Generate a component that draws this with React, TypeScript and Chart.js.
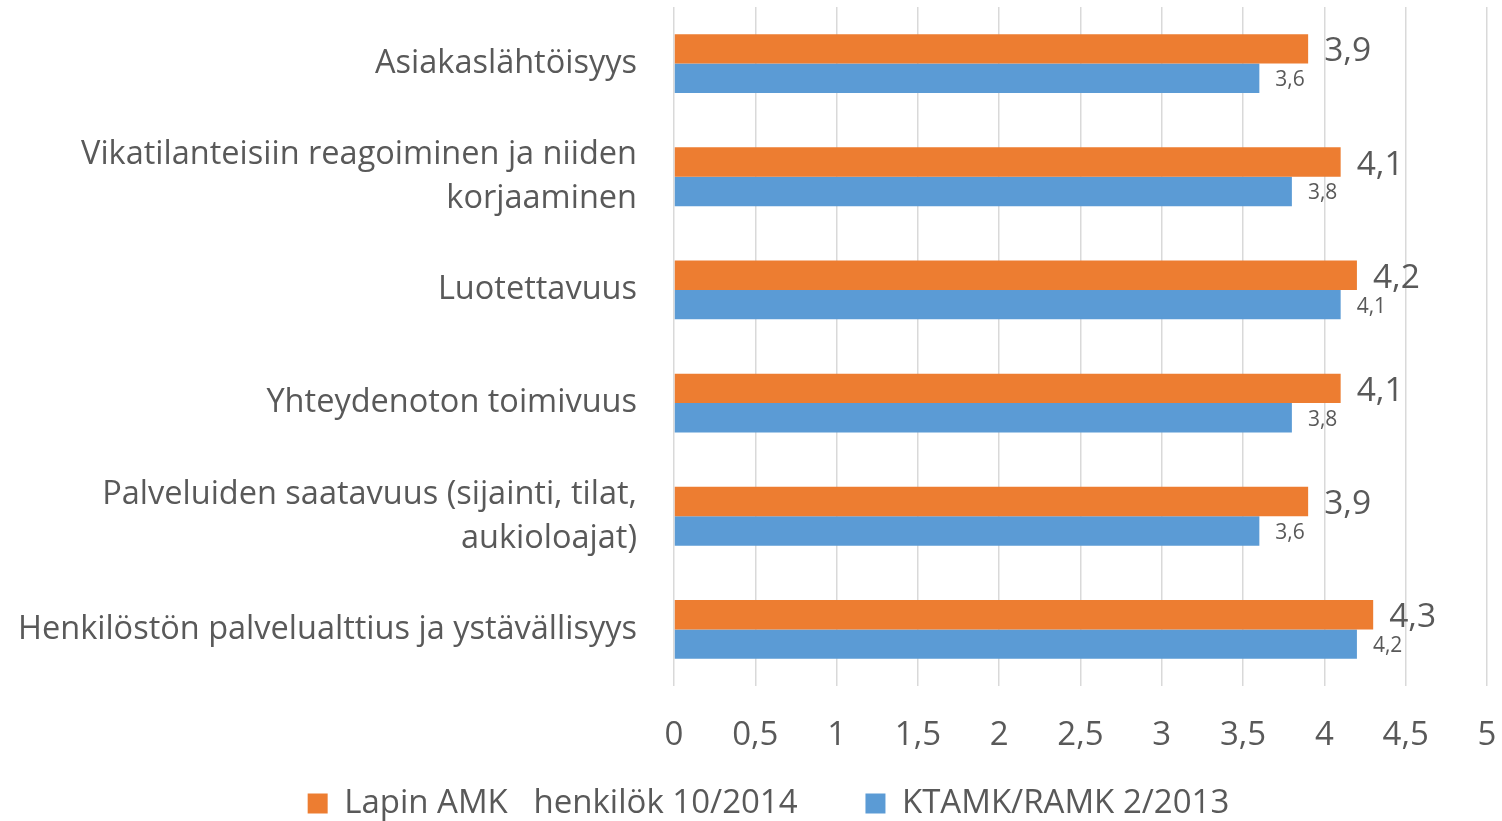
import React, { useEffect, useRef } from "react";
import { Chart, registerables } from "chart.js";

Chart.register(...registerables);

const categories: (string | string[])[] = [
  "Asiakaslähtöisyys",
  ["Vikatilanteisiin reagoiminen ja niiden", "korjaaminen"],
  "Luotettavuus",
  "Yhteydenoton toimivuus",
  ["Palveluiden saatavuus (sijainti, tilat,", "aukioloajat)"],
  "Henkilöstön palvelualttius ja ystävällisyys",
];
const lapinValues = [3.9, 4.1, 4.2, 4.1, 3.9, 4.3];
const ktamkValues = [3.6, 3.8, 4.1, 3.8, 3.6, 4.2];
const seriesNames = ["Lapin AMK   henkilök 10/2014", "KTAMK/RAMK 2/2013"];
const xMin = 0;
const xMax = 5;
const xStep = 0.5;

const ORANGE = "#ED7D31";
const BLUE = "#5B9BD5";
const TEXT = "#595959";
const GRID = "#D9D9D9";
const FONT = "'Open Sans', sans-serif";

const fmt = (v: number) => String(v).replace(".", ",");

const dataLabelPlugin = {
  id: "dataLabels",
  afterDatasetsDraw(chart: any) {
    const ctx = chart.ctx;
    const sizes = [33.5, 21];
    const dy = [3, 2];
    chart.data.datasets.forEach((ds: any, di: number) => {
      const meta = chart.getDatasetMeta(di);
      ctx.save();
      ctx.fillStyle = TEXT;
      ctx.font = `${sizes[di]}px ${FONT}`;
      ctx.textAlign = "left";
      ctx.textBaseline = "middle";
      meta.data.forEach((bar: any, i: number) => {
        ctx.fillText(fmt(ds.data[i]), bar.x + 16, bar.y + dy[di]);
      });
      ctx.restore();
    });
  },
};

const legendShiftPlugin = {
  id: "legendShift",
  afterLayout(chart: any) {
    if (chart.legend) {
      chart.legend.left += 50;
    }
  },
};

export default function App() {
  const ref = useRef<HTMLCanvasElement>(null);
  useEffect(() => {
    if (!ref.current) return;
    const chart = new Chart(ref.current, {
      type: "bar",
      data: {
        labels: categories,
        datasets: [
          {
            label: seriesNames[0],
            data: lapinValues,
            backgroundColor: ORANGE,
            categoryPercentage: 0.52,
            barPercentage: 1,
          },
          {
            label: seriesNames[1],
            data: ktamkValues,
            backgroundColor: BLUE,
            categoryPercentage: 0.52,
            barPercentage: 1,
          },
        ],
      },
      plugins: [dataLabelPlugin, legendShiftPlugin],
      options: {
        indexAxis: "y",
        animation: false,
        responsive: true,
        maintainAspectRatio: false,
        layout: { padding: { top: 7, right: 15, left: 0, bottom: -9 } },
        scales: {
          x: {
            min: xMin,
            max: xMax,
            ticks: {
              stepSize: xStep,
              color: TEXT,
              font: { family: FONT, size: 33 },
              padding: 30,
              maxRotation: 0,
              autoSkip: false,
              callback: (v: any) => fmt(Number(v)),
            },
            grid: { color: GRID, lineWidth: 1.5, drawTicks: false },
            border: { display: false },
            afterFit: (s: any) => {
              s.height = 76;
              s.paddingLeft = 0;
              s.paddingRight = 0;
            },
          },
          y: {
            ticks: {
              color: TEXT,
              font: { family: FONT, size: 32.5, lineHeight: 1.354 },
              padding: 37,
            },
            grid: { display: false, drawTicks: false },
            border: { display: false },
            afterFit: (s: any) => {
              s.width = 674;
              s.paddingTop = 0;
              s.paddingBottom = 0;
            },
          },
        },
        plugins: {
          legend: {
            position: "bottom",
            labels: {
              color: TEXT,
              font: { family: FONT, size: 33 },
              boxWidth: 20,
              boxHeight: 20,
              padding: 25,
              generateLabels: (c: any) => {
                const items = Chart.defaults.plugins.legend.labels.generateLabels(c);
                if (items[0]) items[0].text = items[0].text + "     ";
                return items;
              },
            },
          },
          tooltip: { enabled: false },
        },
      },
    } as any);
    return () => chart.destroy();
  }, []);
  return (
    <div style={{ position: "fixed", left: 0, top: 0, width: 1502, height: 821 }}>
      <canvas ref={ref} />
    </div>
  );
}
